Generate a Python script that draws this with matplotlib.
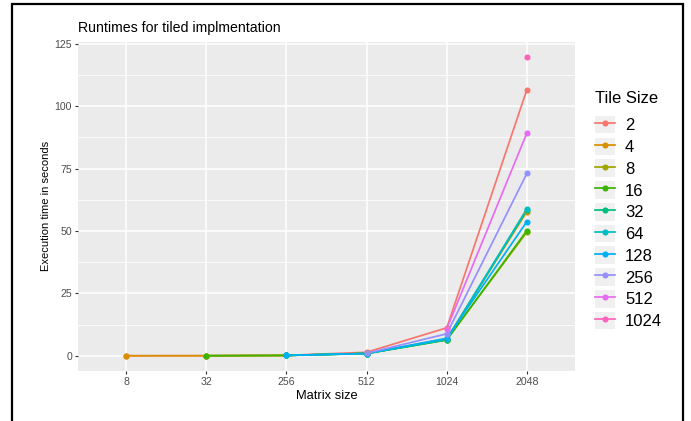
import numpy as np
import matplotlib
matplotlib.use("Agg")
import matplotlib.pyplot as plt
from matplotlib.patches import Rectangle
from matplotlib.lines import Line2D
from matplotlib.legend_handler import HandlerLine2D

plt.rcParams['font.family'] = ['Liberation Sans', 'DejaVu Sans']

# Matrix sizes (categorical x axis) and runtimes per tile size
matrix_sizes = ["8", "32", "256", "512", "1024", "2048"]
tile_sizes = ["2", "4", "8", "16", "32", "64", "128", "256", "512", "1024"]
nan = np.nan
rt_2 = [0.0, 0.01, 0.15, 1.4, 11.2, 106.7]
rt_4 = [0.0, 0.01, 0.12, 1.0, 6.8, 57.8]
rt_8 = [nan, 0.01, 0.12, 0.9, 6.5, 49.6]
rt_16 = [nan, 0.01, 0.12, 0.9, 6.3, 50.2]
rt_32 = [nan, nan, 0.12, 0.9, 6.4, 58.5]
rt_64 = [nan, nan, 0.13, 0.9, 6.6, 58.9]
rt_128 = [nan, nan, 0.13, 0.9, 7.0, 53.8]
rt_256 = [nan, nan, nan, 1.0, 8.8, 73.1]
rt_512 = [nan, nan, nan, nan, 10.8, 89.3]
rt_1024 = [nan, nan, nan, nan, nan, 119.9]
runtimes = [rt_2, rt_4, rt_8, rt_16, rt_32, rt_64, rt_128, rt_256, rt_512, rt_1024]

colors = ["#F8766D", "#D89000", "#A3A500", "#39B600", "#00BF7D",
          "#00BFC4", "#00B0F6", "#9590FF", "#E76BF3", "#FF62BC"]

W, H = 691, 421
fig = plt.figure(figsize=(W / 100, H / 100), dpi=100)

# panel placement in pixels
px_l, px_r, px_t, px_b = 78, 575, 41.7, 370.7
ax = fig.add_axes([px_l / W, 1 - px_b / H, (px_r - px_l) / W, (px_b - px_t) / H])
ax.set_facecolor("#EBEBEB")
for s in ax.spines.values():
    s.set_visible(False)

x = np.arange(len(matrix_sizes))
LW, MS = 1.25, 4.4

# lines first, points on top (layer order)
for vals, c in zip(runtimes, colors):
    ax.plot(x, vals, color=c, lw=LW, zorder=3, solid_capstyle='butt')
for vals, c in zip(runtimes, colors):
    ax.plot(x, vals, linestyle='none', marker='o', ms=MS, color=c,
            markeredgewidth=0, zorder=4)

allv = np.array(runtimes, dtype=float)
lo, hi = np.nanmin(allv), np.nanmax(allv)
pad = 0.05 * (hi - lo)
ax.set_ylim(lo - pad, hi + pad)
ax.set_xlim(-0.6, len(matrix_sizes) - 1 + 0.6)

ax.set_xticks(x)
ax.set_xticklabels(matrix_sizes)
ax.set_yticks([0, 25, 50, 75, 100, 125])
ax.set_yticks([12.5, 37.5, 62.5, 87.5, 112.5], minor=True)
ax.grid(True, which='major', color='white', lw=1.1, zorder=1)
ax.grid(True, which='minor', axis='y', color='white', lw=0.55, zorder=1)
ax.set_axisbelow(True)
ax.tick_params(axis='both', which='major', length=2.4, width=0.8,
               color='#333333', labelsize=7.6, labelcolor='#4D4D4D', pad=2)
ax.tick_params(axis='y', which='minor', length=0)

ax.set_xlabel("Matrix size", fontsize=9.3, color='black', labelpad=2)
ax.set_ylabel("Execution time in seconds", fontsize=8.0, color='black', labelpad=2.5)
ax.set_title("Runtimes for tiled implmentation", loc='left', fontsize=10.2,
             color='black', pad=7)


class KeyHandler(HandlerLine2D):
    def create_artists(self, legend, orig_handle, xdescent, ydescent,
                       width, height, fontsize, trans):
        bg = Rectangle((-xdescent, -ydescent), width, height,
                       facecolor='#F0F0F0', edgecolor='none', transform=trans)
        arts = super().create_artists(legend, orig_handle, xdescent, ydescent,
                                      width, height, fontsize, trans)
        return [bg] + list(arts)


handles = [Line2D([0], [0], color=c, lw=LW, marker='o', ms=MS,
                  markeredgewidth=0) for c in colors]
leg = fig.legend(handles, tile_sizes, title="Tile Size", loc='upper left',
                 bbox_to_anchor=(595 / W, 1 - 91 / H), frameon=False,
                 fontsize=12, title_fontsize=12, alignment='left',
                 handlelength=1.2, handleheight=1.25, handletextpad=0.6,
                 labelspacing=0.25, borderpad=0, borderaxespad=0,
                 numpoints=1, handler_map={Line2D: KeyHandler()})
leg._legend_box.sep = 7

# outer frame
fig.patches.append(Rectangle((12 / W, -0.05), (683 - 12) / W, 1.05 - 4 / H,
                             transform=fig.transFigure, fill=False,
                             edgecolor='black', lw=1.6))

fig.savefig("out.png", dpi=100)
